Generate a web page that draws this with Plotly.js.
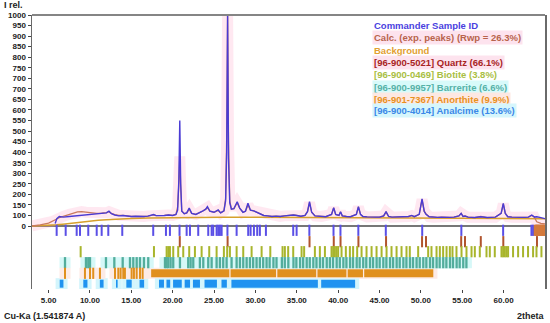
<!DOCTYPE html>
<html><head><meta charset="utf-8">
<script src="https://cdn.plot.ly/plotly-3.0.1.min.js"></script>
<style>html,body{margin:0;padding:0;background:#fff}#chart{width:550px;height:323px}</style>
</head><body><div id="chart"></div>
<script>
// ---- pattern data (2theta, relative intensity in plotted axis units) ----
const twoTheta = [
 3.0, 4.0, 5.0, 5.5, 5.8, 6.0, 6.3, 6.8, 7.5, 8.0,
 8.5, 9.0, 9.5, 10.2, 10.8, 11.4, 12.0, 12.3, 12.6, 13.0,
 13.5, 14.0, 14.5, 15.0, 15.5, 16.0, 16.5, 17.0, 17.5, 17.7,
 18.0, 18.5, 19.0, 19.5, 20.0, 20.4, 20.6, 20.75, 20.86, 20.97,
 21.1, 21.4, 21.7, 22.0, 22.3, 22.8, 23.2, 23.6, 24.0, 24.2,
 24.5, 25.0, 25.5, 25.8, 26.2, 26.4, 26.53, 26.64, 26.75, 26.9,
 27.1, 27.4, 27.8, 28.1, 28.5, 28.8, 29.1, 29.4, 29.8, 30.2,
 30.6, 31.0, 31.5, 32.0, 32.5, 33.0, 33.5, 34.0, 34.6, 35.0,
 35.5, 36.0, 36.3, 36.54, 36.8, 37.2, 38.0, 38.5, 39.2, 39.46,
 39.7, 40.1, 40.29, 40.5, 41.0, 41.5, 42.2, 42.45, 42.7, 43.0,
 43.5, 44.0, 44.5, 45.0, 45.5, 45.79, 46.1, 46.5, 47.0, 47.5,
 48.0, 48.5, 48.9, 49.2, 49.8, 50.14, 50.4, 50.62, 51.0, 51.5,
 52.0, 52.5, 53.0, 53.5, 54.0, 54.6, 54.87, 55.1, 55.33, 55.7,
 56.5, 57.24, 58.0, 58.5, 59.0, 59.7, 59.96, 60.2, 60.5, 61.0,
 61.5, 62.0, 62.5, 63.0, 63.4, 63.7, 64.0, 64.5, 65.0];
const observed = [
 null, null, null, null, 12, 35, 45, 42, 45, 47,
 49, 51, 53, 57, 58, 60, 62, 70, 58, 52,
 48, 50, 47, 45, 46, 44, 45, 47, 50, 54,
 49, 48, 50, 52, 50, 55, 75, 220, 500, 200,
 70, 58, 62, 85, 60, 55, 62, 70, 80, 92,
 70, 65, 76, 62, 72, 120, 350, 1000, 320, 110,
 80, 82, 115, 85, 65, 70, 108, 75, 72, 65,
 55, 50, 48, 45, 47, 45, 48, 50, 52, 50,
 46, 50, 68, 115, 65, 48, 45, 44, 55, 87,
 55, 50, 68, 48, 45, 44, 55, 92, 55, 45,
 43, 44, 42, 42, 48, 68, 45, 42, 43, 41,
 43, 45, 50, 44, 55, 128, 70, 55, 44, 42,
 41, 42, 40, 41, 42, 48, 60, 45, 47, 42,
 40, 44, 40, 41, 42, 60, 107, 60, 44, 42,
 41, 40, 41, 42, 52, 43, 44, 40, 35];
const calculated = [
 0, 5, 14, 22, 28, 33, 40, 46, 55, 62,
 67, 68, 65, 62, 60, 61, 63, 68, 60, 54,
 50, 50, 47, 45, 46, 44, 45, 47, 50, 53,
 49, 48, 50, 52, 50, 55, 90, 200, 330, 190,
 72, 58, 62, 80, 60, 55, 62, 70, 80, 88,
 70, 65, 74, 62, 72, 130, 420, 1000, 400, 120,
 80, 82, 110, 85, 65, 70, 100, 75, 72, 65,
 55, 50, 48, 45, 47, 45, 48, 50, 52, 50,
 46, 50, 70, 110, 65, 48, 45, 44, 55, 85,
 55, 50, 66, 48, 45, 44, 55, 90, 55, 45,
 43, 44, 42, 42, 48, 66, 45, 42, 43, 41,
 43, 45, 49, 44, 55, 125, 70, 57, 44, 42,
 41, 42, 40, 41, 42, 48, 60, 45, 48, 42,
 40, 45, 40, 41, 42, 60, 105, 60, 44, 42,
 41, 40, 41, 42, 50, 43, 20, 12, 10];
const bgTheta = [3, 5, 6, 7, 8, 9, 10, 11, 12, 13, 14, 15, 17, 20, 23, 26, 30, 35, 40, 45, 50, 55, 60, 65];
const background = [0, 3, 6, 10, 15, 19, 23, 27, 30, 33, 35, 36, 38, 40, 41, 42, 42, 41, 40, 38, 37, 36, 35, 34];

// ---- peak position rows ----
const samplePeaks = [5.98, 7.07, 8.40, 8.80, 9.80, 10.82, 11.42, 12.22, 13.91, 17.65, 19.19, 19.67, 20.83, 21.69, 22.09, 23.09, 24.30, 24.71, 24.90, 25.31, 25.51, 25.71, 25.92, 26.62, 27.73, 29.13, 29.42, 29.82, 30.22, 30.54, 31.27, 34.57, 34.98, 36.52, 39.44, 40.28, 42.44, 45.76, 50.16, 54.89, 59.94, 63.36, 63.56];
const sampleEndBlock = [63.82, 63.97, 64.1, 64.26, 64.4, 64.57, 64.7, 64.86, 64.98];
const quartzPeaks = [20.86, 26.64, 36.54, 39.47, 40.29, 42.45, 45.79, 50.14, 50.62, 54.87, 55.33, 57.24, 59.96, 64.03];
const biotitePeaks = [8.88, 17.74, 19.27, 19.47, 19.67, 20.07, 20.67, 21.28, 22.0, 22.69, 23.5, 24.42, 25.31, 26.19, 26.59, 26.92, 27.73, 28.53, 29.54, 30.75, 31.8, 33.28, 33.56, 33.96, 34.57, 35.58, 35.89, 37.19, 37.79, 38.4, 39.2, 39.4, 39.6, 39.8, 40.0, 40.41, 40.93, 41.42, 41.81, 42.3, 42.83, 43.43, 44.04, 44.64, 45.25, 45.85, 46.45, 47.06, 47.66, 48.26, 48.66, 49.67, 50.88, 51.28, 51.89, 52.29, 52.69, 53.1, 53.5, 53.82, 54.3, 54.91, 55.51, 56.12, 56.52, 57.12, 57.93, 58.33, 58.93, 59.74, 59.94, 60.14, 60.34, 60.54, 61.14, 61.75, 62.35, 62.95, 63.56, 63.97, 64.57];
const barreritePeaks = [6.99, 9.52, 9.80, 10.01, 11.94, 12.95, 13.96, 14.84, 15.24, 15.65, 16.05, 16.53, 17.05, 19.07, 19.27, 19.47, 19.75, 20.07, 20.88, 21.88, 22.17, 22.49, 23.29, 23.70, 24.30, 24.71, 25.31, 25.71, 26.11, 26.52, 27.12, 27.73, 28.13, 28.53, 28.94, 29.34, 29.73, 30.14, 30.54, 30.94, 31.35, 31.72, 32.18, 32.55, 33.2, 33.55, 33.98, 34.6, 34.95, 35.4, 35.77, 36.2, 36.57, 37.0, 37.38, 37.8, 38.17, 38.62, 39.0, 39.38, 39.82, 40.2, 40.63, 41.0, 41.44, 41.8, 42.24, 42.6, 43.03, 43.4, 43.85, 44.22, 44.65, 45.02, 45.46, 45.83, 46.27, 46.64, 47.07, 47.44, 47.88, 48.25, 48.68, 49.05, 49.48, 49.86, 50.29, 50.66, 51.1, 51.47, 51.9, 52.27, 52.7, 53.08, 53.52, 53.88, 54.32, 54.69, 55.12, 55.5];
const anorthitePeaks = [6.99, 9.40, 10.01, 10.40, 11.21, 13.03, 13.43, 13.71, 14.03, 14.23, 15.04, 15.32, 15.65, 16.05, 16.37];
const anorthiteStart = [17.40, 27.00, 32.65, 37.50, 41.15, 43.15];
const anorthiteEnd   = [26.85, 32.50, 37.35, 41.00, 43.00, 51.50];
const analcimeStart = [6.35, 9.20, 11.20, 13.15, 14.40, 16.00, 18.35, 19.25, 20.05, 21.45, 22.45, 23.85, 25.90, 27.10, 37.95];
const analcimeEnd   = [6.80, 9.70, 11.65, 13.35, 15.05, 16.55, 18.95, 19.70, 21.10, 22.10, 23.30, 25.35, 26.55, 37.55, 42.05];

// ---- axis tick labels (as printed on the original) ----
const yTickVals = [0, 50, 100, 150, 200, 250, 300, 350, 400, 450, 500, 550, 600, 650, 700, 750, 800, 850, 900, 950, 1000];
const yTickText = ["0", "100", "150", "200", "250", "300", "350", "400", "450", "500", "550", "600", "650", "700", "700", "750", "800", "850", "900", "950", "1000"];
const xTickVals = [5, 10, 15, 20, 25, 30, 35, 40, 45, 50, 55, 60];

// ---- legend ----
const legendLabels = ["Commander Sample ID", "Calc. (exp. peaks) (Rwp = 26.3%)", "Background", "[96-900-5021] Quartz (66.1%)", "[96-900-0469] Biotite (3.8%)", "[96-900-9957] Barrerite (6.6%)", "[96-901-7367] Anorthite (9.9%)", "[96-900-4014] Analcime (13.6%)"];
const legendColors = ["#4a3fe0", "#b8644c", "#e3a030", "#a82424", "#a9c043", "#55b2a8", "#e8921e", "#3a88e8"];
const legendBg = [null, "#fde3ee", null, "#fde3ee", null, "#d8fafa", "#fde8e2", "#d6f6fc"];

// ---- style ----
const PX = 4.739; // axis units per pixel in y
const rowY = [-20.4, -74.4, -121.8, -173.9, -224.2, -273.4];
const tickSize = 8;
const same = (arr, v) => arr.map(() => v);

function ticks(xs, y, color, w) {
  return {type: 'scatter', mode: 'markers', x: xs, y: same(xs, y), hoverinfo: 'skip', showlegend: false,
    marker: {symbol: 'line-ns', size: tickSize, color: color, line: {color: color, width: w || 2}}};
}
function bgSquares(xs, y, color) {
  return {type: 'scatter', mode: 'markers', x: xs, y: same(xs, y), hoverinfo: 'skip', showlegend: false,
    marker: {symbol: 'square', size: 11, color: color, line: {width: 0}}};
}
function segBars(starts, ends, y, color, thickPx, pad) {
  return {type: 'bar', orientation: 'h', base: starts.map(s => s - pad), x: starts.map((s, i) => ends[i] - s + 2 * pad),
    y: same(starts, y), width: thickPx * PX, marker: {color: color, line: {width: 0}}, hoverinfo: 'skip', showlegend: false};
}

const traces = [
  // pink glow
  {type: 'scatter', mode: 'lines', x: twoTheta, y: calculated, line: {color: 'rgba(255,150,190,0.22)', width: 11}, hoverinfo: 'skip', showlegend: false},
  // row backgrounds
  bgSquares(barreritePeaks, rowY[3], '#d6f8f8'),
  bgSquares(anorthitePeaks, rowY[4], '#fdebe6'),
  segBars(anorthiteStart, anorthiteEnd, rowY[4], '#fdebe6', 11, 0.5),
  segBars(analcimeStart, analcimeEnd, rowY[5], '#d3f5fc', 11, 0.5),
  // background curve
  {type: 'scatter', mode: 'lines', x: bgTheta, y: background, line: {color: '#d6a02c', width: 1.5}, hoverinfo: 'skip', showlegend: false},
  // calculated
  {type: 'scatter', mode: 'lines', x: twoTheta, y: calculated, line: {color: '#c97a5e', width: 1.3}, hoverinfo: 'skip', showlegend: false},
  // observed
  {type: 'scatter', mode: 'lines', x: twoTheta, y: observed, line: {color: '#4a3bd4', width: 1.4}, connectgaps: false, hoverinfo: 'skip', showlegend: false},
  // peak rows
  ticks(samplePeaks, rowY[0], '#5a4fe6', 2),
  ticks(sampleEndBlock, rowY[0], '#d47a3c', 3),
  ticks(quartzPeaks, rowY[1], '#b0542e', 2),
  ticks(biotitePeaks, rowY[2], '#a8b52c', 2),
  ticks(barreritePeaks, rowY[3], '#52ad9c', 2.3),
  ticks(anorthitePeaks, rowY[4], '#e0901e', 2),
  segBars(anorthiteStart, anorthiteEnd, rowY[4], '#e0901e', tickSize, 0),
  segBars(analcimeStart, analcimeEnd, rowY[5], '#1f93f0', tickSize, 0)
];

const annotations = legendLabels.map((t, i) => ({
  xref: 'paper', yref: 'paper', x: 0.6628, y: [0.96, 0.917, 0.872, 0.828, 0.782, 0.737, 0.692, 0.65][i],
  xanchor: 'left', yanchor: 'middle', showarrow: false, text: t,
  font: {family: 'Liberation Sans, Arial, sans-serif', size: 9.5, weight: 'bold', color: legendColors[i]},
  bgcolor: legendBg[i] || 'rgba(0,0,0,0)', borderpad: 1
}));
annotations.push(
  {xref: 'paper', yref: 'paper', x: -0.058, y: 1.036, xanchor: 'left', yanchor: 'middle', showarrow: false, text: 'I rel.',
   font: {family: 'Liberation Sans, Arial, sans-serif', size: 9, weight: 'bold', color: '#222'}},
  {xref: 'paper', yref: 'paper', x: -0.058, y: -0.1, xanchor: 'left', yanchor: 'middle', showarrow: false, text: 'Cu-Ka (1.541874 A)',
   font: {family: 'Liberation Sans, Arial, sans-serif', size: 9, weight: 'bold', color: '#222'}},
  {xref: 'paper', yref: 'paper', x: 1.004, y: -0.1, xanchor: 'right', yanchor: 'middle', showarrow: false, text: '2theta',
   font: {family: 'Liberation Sans, Arial, sans-serif', size: 9, weight: 'bold', color: '#222'}}
);

const tickFont = {family: 'Liberation Sans, Arial, sans-serif', size: 8, weight: 'bold', color: '#222'};
const layout = {
  width: 550, height: 323,
  margin: {l: 32, r: 5, t: 15, b: 34},
  paper_bgcolor: '#fff', plot_bgcolor: '#fff',
  barmode: 'overlay', showlegend: false,
  xaxis: {range: [3, 65], tickvals: xTickVals, tickformat: '.2f', ticks: 'outside', ticklen: 3, tickcolor: '#444',
    showgrid: false, zeroline: false, showline: false, tickfont: tickFont, fixedrange: true},
  yaxis: {range: [-298.6, 1000], tickvals: yTickVals, ticktext: yTickText, ticks: 'outside', ticklen: 3, tickcolor: '#444',
    showgrid: false, showline: true, mirror: true, linecolor: '#6a6a6a', linewidth: 1.5,
    zeroline: true, zerolinecolor: '#777', zerolinewidth: 1.5, tickfont: tickFont, fixedrange: true},
  shapes: [{type: 'line', xref: 'paper', yref: 'paper', x0: 0, x1: 1, y0: 1, y1: 1, line: {color: '#858585', width: 2.2}}],
  annotations: annotations
};
Plotly.newPlot('chart', traces, layout, {staticPlot: true, displayModeBar: false});
</script></body></html>
